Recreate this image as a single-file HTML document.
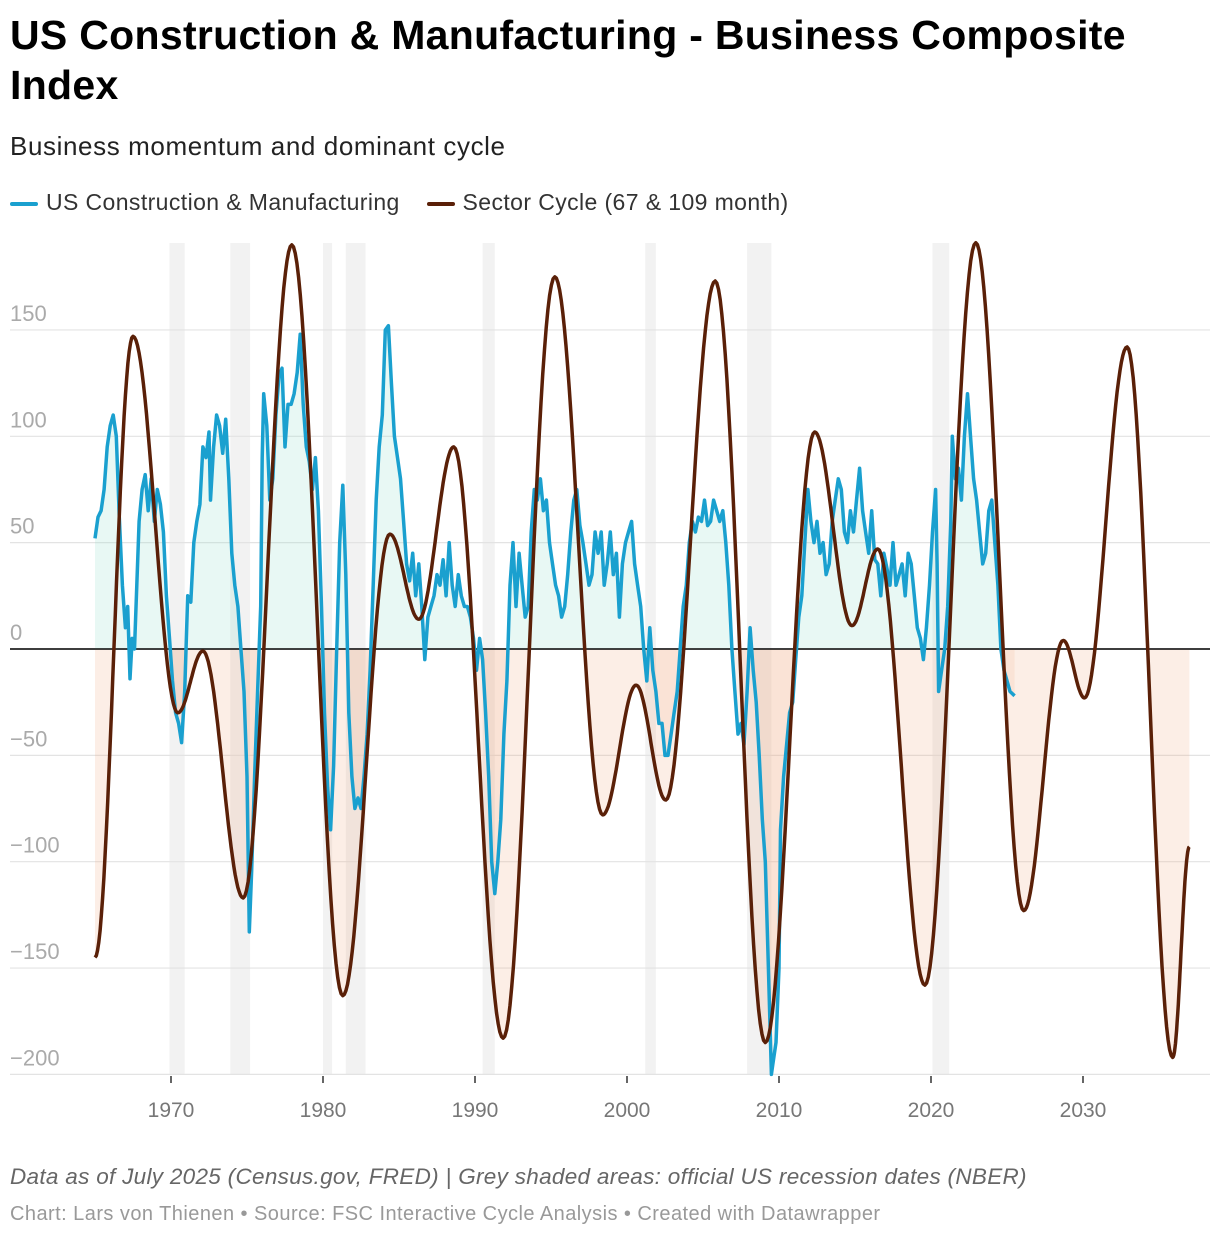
<!DOCTYPE html>
<html><head><meta charset="utf-8"><style>
body{margin:0;background:#fff;font-family:"Liberation Sans",Arial,sans-serif;}
#wrap{position:relative;width:1220px;height:1238px;overflow:hidden}
.t{position:absolute;left:10px;white-space:nowrap}
</style></head><body><div id="wrap">
<div class="t" style="top:10px;font-size:41px;letter-spacing:0.3px;font-weight:bold;line-height:50px;color:#000">US Construction &amp; Manufacturing - Business Composite<br>Index</div>
<div class="t" style="top:131px;font-size:26px;letter-spacing:0.6px;color:#222">Business momentum and dominant cycle</div>
<div class="t" style="top:189px;font-size:23px;letter-spacing:0.4px;color:#333">
<span><span style="display:inline-block;width:28px;height:4px;background:#1aa0cf;vertical-align:middle;margin-right:8px;border-radius:2px"></span>US Construction &amp; Manufacturing</span>
<span style="margin-left:20px"><span style="display:inline-block;width:28px;height:4px;background:#5a2008;vertical-align:middle;margin-right:8px;border-radius:2px"></span>Sector Cycle (67 &amp; 109 month)</span></div>
<svg id="ch" width="1220" height="1238" style="position:absolute;left:0;top:0"></svg>
<div class="t" style="top:1164px;font-size:22.5px;letter-spacing:0.3px;font-style:italic;color:#666">Data as of July 2025 (Census.gov, FRED) | Grey shaded areas: official US recession dates (NBER)</div>
<div class="t" style="top:1203px;font-size:20px;letter-spacing:0.45px;color:#999">Chart: Lars von Thienen • Source: FSC Interactive Cycle Analysis • Created with Datawrapper</div>
</div>
<script>
const yTicks=[150,100,50,0,-50,-100,-150,-200];
const yTickLabels=["150","100","50","0","−50","−100","−150","−200"];
const xTicks=[1970,1980,1990,2000,2010,2020,2030];
const recessions=[[1969.9,1970.9],[1973.9,1975.2],[1980.0,1980.6],[1981.5,1982.8],[1990.5,1991.3],[2001.2,2001.9],[2007.9,2009.5],[2020.1,2021.2]];
const cycleYears=[1965.0,1967.5,1970.45,1972.1,1974.75,1977.95,1981.3,1984.4,1986.3,1988.6,1991.85,1995.25,1998.4,2000.6,2002.55,2005.8,2009.1,2012.35,2014.8,2016.5,2019.6,2022.95,2026.1,2028.7,2030.1,2032.9,2035.9,2037.0];
const cycleValues=[-145,147,-30,-1,-117,190,-163,54,14,95,-183,175,-78,-17,-71,173,-185,102,11,47,-158,191,-123,4,-23,142,-192,-93];
const blueYears=[1965.0,1965.2,1965.4,1965.6,1965.8,1966.0,1966.2,1966.4,1966.6,1966.8,1967.0,1967.15,1967.3,1967.45,1967.6,1967.75,1967.9,1968.1,1968.3,1968.5,1968.7,1968.9,1969.1,1969.3,1969.5,1969.7,1969.9,1970.1,1970.3,1970.5,1970.7,1970.9,1971.1,1971.3,1971.5,1971.7,1971.9,1972.1,1972.3,1972.5,1972.6,1972.8,1973.0,1973.2,1973.4,1973.6,1973.8,1974.0,1974.2,1974.4,1974.6,1974.8,1975.0,1975.15,1975.3,1975.5,1975.7,1975.9,1976.0,1976.1,1976.3,1976.5,1976.7,1976.9,1977.1,1977.3,1977.5,1977.7,1977.9,1978.1,1978.3,1978.5,1978.7,1978.9,1979.1,1979.3,1979.5,1979.7,1979.9,1980.1,1980.3,1980.5,1980.7,1980.9,1981.1,1981.3,1981.5,1981.7,1981.9,1982.1,1982.3,1982.5,1982.7,1982.9,1983.1,1983.3,1983.5,1983.7,1983.9,1984.1,1984.3,1984.5,1984.7,1984.9,1985.1,1985.3,1985.5,1985.7,1985.9,1986.1,1986.3,1986.5,1986.7,1986.9,1987.1,1987.3,1987.5,1987.7,1987.9,1988.1,1988.3,1988.5,1988.7,1988.9,1989.1,1989.3,1989.5,1989.7,1989.9,1990.1,1990.3,1990.5,1990.7,1990.9,1991.1,1991.3,1991.5,1991.7,1991.9,1992.1,1992.3,1992.5,1992.7,1992.9,1993.1,1993.3,1993.5,1993.7,1993.9,1994.1,1994.3,1994.5,1994.7,1994.9,1995.1,1995.3,1995.5,1995.7,1995.9,1996.1,1996.3,1996.5,1996.7,1996.9,1997.1,1997.3,1997.5,1997.7,1997.9,1998.1,1998.3,1998.5,1998.7,1998.9,1999.1,1999.3,1999.5,1999.7,1999.9,2000.1,2000.3,2000.5,2000.7,2000.9,2001.1,2001.3,2001.5,2001.7,2001.9,2002.1,2002.3,2002.5,2002.7,2002.9,2003.1,2003.3,2003.5,2003.7,2003.9,2004.1,2004.3,2004.5,2004.7,2004.9,2005.1,2005.3,2005.5,2005.7,2005.9,2006.1,2006.3,2006.5,2006.7,2006.9,2007.1,2007.3,2007.5,2007.7,2007.9,2008.1,2008.3,2008.5,2008.7,2008.9,2009.1,2009.3,2009.5,2009.6,2009.8,2010.0,2010.1,2010.3,2010.5,2010.7,2010.9,2011.1,2011.3,2011.5,2011.7,2011.9,2012.1,2012.3,2012.5,2012.7,2012.9,2013.1,2013.3,2013.5,2013.7,2013.9,2014.1,2014.3,2014.5,2014.7,2014.9,2015.1,2015.3,2015.5,2015.7,2015.9,2016.1,2016.3,2016.5,2016.7,2016.9,2017.1,2017.3,2017.5,2017.7,2017.9,2018.1,2018.3,2018.5,2018.7,2018.9,2019.1,2019.3,2019.5,2019.7,2019.9,2020.1,2020.3,2020.4,2020.5,2020.7,2020.9,2021.1,2021.3,2021.4,2021.6,2021.8,2022.0,2022.2,2022.4,2022.6,2022.8,2023.0,2023.2,2023.4,2023.6,2023.8,2024.0,2024.2,2024.4,2024.6,2024.8,2025.0,2025.2,2025.5];
const blueValues=[52,62,65,75,95,105,110,100,62,30,10,20,-14,5,0,30,60,75,82,65,80,60,75,68,55,25,5,-15,-30,-35,-44,-20,25,22,50,60,68,95,90,102,70,95,110,105,92,108,80,45,30,20,0,-20,-60,-133,-105,-60,-20,20,90,120,105,70,80,110,128,132,95,115,115,120,130,148,115,95,88,75,90,65,20,-30,-65,-85,-55,0,50,77,35,-30,-60,-75,-70,-75,-60,-40,-10,30,70,95,110,150,152,125,100,90,80,60,40,32,45,25,40,20,-5,15,20,25,35,30,42,25,50,30,20,35,25,20,20,15,5,-10,5,-5,-30,-60,-100,-115,-100,-80,-40,-15,30,50,20,45,30,15,20,55,75,70,80,65,70,50,40,30,25,15,20,35,55,70,75,58,50,40,30,35,55,45,55,30,40,55,35,45,15,40,50,55,60,40,30,20,0,-15,10,-10,-20,-35,-35,-50,-50,-40,-30,-20,0,20,30,50,60,55,62,60,70,58,60,70,65,60,65,50,30,0,-20,-40,-35,-45,-20,10,-10,-25,-50,-80,-100,-150,-200,-195,-185,-150,-85,-60,-45,-30,-25,-5,15,25,50,75,60,50,60,45,50,35,40,60,70,80,75,55,50,65,55,70,85,65,55,45,65,42,40,25,45,38,30,50,30,35,40,25,45,40,25,10,5,-5,10,30,55,75,40,-20,-10,0,20,60,100,80,85,70,100,120,100,80,70,55,40,45,65,70,50,30,0,-10,-15,-20,-22];

const NS="http://www.w3.org/2000/svg",svg=document.getElementById('ch');
const X=yr=>171+(yr-1970)*15.2, Y=v=>649-v*2.127;
function mk(t,a){const e=document.createElementNS(NS,t);for(const k in a)e.setAttribute(k,a[k]);svg.appendChild(e);return e;}
recessions.forEach(r=>{const e=mk('rect',{x:X(r[0]),y:243,width:X(r[1])-X(r[0]),height:831,fill:'#f2f2f2'});

});
yTicks.forEach((t,i)=>{const g=mk('line',{x1:10,x2:1210,y1:Y(t),y2:Y(t),stroke:t===0?'#222':'#e3e3e3','stroke-width':t===0?1.5:1.2});


const l=mk('text',{x:10,y:Y(t)-9,fill:'#aaa','font-size':22,'font-family':'Liberation Sans, sans-serif'});l.textContent=yTickLabels[i];

});
xTicks.forEach(t=>{const m=mk('line',{x1:X(t),x2:X(t),y1:1076,y2:1083,stroke:'#333','stroke-width':1.5});


const l=mk('text',{x:X(t),y:1117,'text-anchor':'middle',fill:'#777','font-size':21,'font-family':'Liberation Sans, sans-serif'});l.textContent=t;

});
const cp=[];
for(let i=0;i<cycleYears.length-1;i++){const a=cycleYears[i],b=cycleYears[i+1],va=cycleValues[i],vb=cycleValues[i+1];
 for(let k=0;k<30;k++){const f=k/30,m=(1-Math.cos(Math.PI*f))/2;cp.push([a+(b-a)*f,va+(vb-va)*m]);}}
cp.push([cycleYears[cycleYears.length-1],cycleValues[cycleValues.length-1]]);
const bp=blueYears.map((y,i)=>[y,blueValues[i]]);
function area(pts,fn){let d='M'+X(pts[0][0])+','+Y(0);pts.forEach(p=>d+='L'+X(p[0])+','+Y(fn(p[1])));d+='L'+X(pts[pts.length-1][0])+','+Y(0)+'Z';return d;}
const a1=mk('path',{d:area(cp,v=>Math.min(0,v)),fill:'rgba(240,170,130,0.2)'});


const a2=mk('path',{d:area(bp,v=>Math.min(0,v)),fill:'rgba(240,170,130,0.15)'});


const a3=mk('path',{d:area(bp,v=>Math.max(0,v)),fill:'rgba(150,225,205,0.22)'});


mk('line',{x1:10,x2:1210,y1:Y(0),y2:Y(0),stroke:'#222','stroke-width':1.5});
const line=pts=>pts.map((p,i)=>(i?'L':'M')+X(p[0]).toFixed(1)+','+Y(p[1]).toFixed(1)).join('');
const bl=mk('path',{d:line(bp),fill:'none',stroke:'#1aa0cf','stroke-width':3.5,'stroke-linejoin':'round'});


const cl=mk('path',{d:line(cp),fill:'none',stroke:'#5a2008','stroke-width':3.5,'stroke-linejoin':'round'});


</script></body></html>
